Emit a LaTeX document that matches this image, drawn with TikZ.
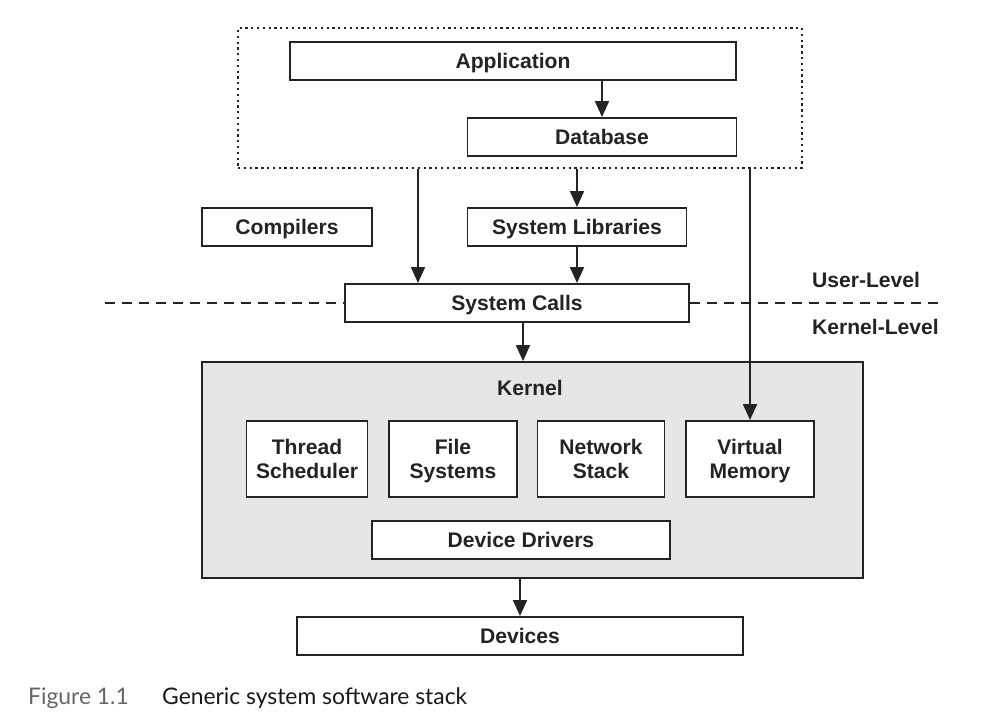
\documentclass[tikz,border=0pt]{standalone}
\usepackage{fontspec}
\setmainfont{Liberation Sans}
\newfontfamily\capfont{Lato}
\usetikzlibrary{arrows.meta,positioning}
\definecolor{ink}{RGB}{35,35,35}
\definecolor{shade}{RGB}{230,230,230}
\tikzset{
  >={Triangle[length=3.2mm,width=2.8mm]},
  box/.style={draw=ink,fill=white,line width=1.1pt,minimum width=#1,
    minimum height=7.6mm,inner sep=0pt,align=center,font=\fontsize{12}{13.5}\selectfont\bfseries,text=ink,
    text height=8.6pt,text depth=0pt},
  box/.default=3cm,
  tall box/.style={box=#1,minimum height=15.2mm,text height=22.1pt},
  flow/.style={->,line width=1.1pt,draw=ink},
  level/.style={font=\fontsize{12}{13.5}\selectfont\bfseries,text=ink,anchor=west},
}
\begin{document}
\begin{tikzpicture}[x=0.02cm,y=-0.02cm]
        \useasboundingbox (0,0) rectangle (1001,727);
        % user space
        \node[draw=ink,dotted,line width=1.3pt,minimum width=11.28cm,minimum height=2.8cm] (user) at (520,98) {};
        \node[box=8.94cm] (app) at (513,61) {Application};
        \node[box=5.38cm] (db) at (602,137) {Database};
        \node[box=3.4cm] (comp) at (287,227) {Compilers};
        \node[box=4.38cm] (lib) at (577,227) {System Libraries};
        \node[box=6.88cm] (sys) at (517,303) {System Calls};
        % user / kernel split
        \coordinate (dl) at (105,303); \coordinate (dr) at (940,303);
        \draw[ink,line width=1pt,dash pattern=on 2mm off 1.4mm] (dl) -- (sys.west) (sys.east) -- (dr);
        \node[level] (ul) at (806,280) {User-Level};
        \node[level] (kl) at (806,327) {Kernel-Level};
        % kernel
        \node[draw=ink,fill=shade,line width=1.1pt,minimum width=13.22cm,minimum height=4.32cm] (kern) at (532.5,470) {};
        \node[font=\fontsize{12}{13.5}\selectfont\bfseries,text=ink] (kt) at (530,388) {Kernel};
        \node[tall box=2.42cm] (thr) at (307,459) {Thread\\Scheduler};
        \node[tall box=2.56cm] (fs) at (453,459) {File\\Systems};
        \node[tall box=2.54cm] (net) at (601,459) {Network\\Stack};
        \node[tall box=2.56cm] (vm) at (750,459) {Virtual\\Memory};
        \node[box=5.96cm] (drv) at (521,540) {Device Drivers};
        \node[box=8.92cm] (dev) at (520,636) {Devices};
        % connectors
        \coordinate (a1) at (418,0);
        \coordinate (a2) at (523,0);
        \draw[flow] (app.south -| db) -- (db.north);
        \draw[flow] (user.south -| a1) -- (sys.north -| a1);
        \draw[flow] (user.south -| lib) -- (lib.north);
        \draw[flow] (lib.south) -- (sys.north -| lib);
        \draw[flow] (user.south -| vm) -- (vm.north);
        \draw[flow] (sys.south -| a2) -- (kern.north -| a2);
        \draw[flow] (kern.south -| dev) -- (dev.north);
        % caption
        \node[anchor=west,font=\capfont\fontsize{13}{15}\selectfont,text=black!60] (fig) at (22,698) {Figure 1.1};
        \node[anchor=west,font=\capfont\fontsize{13}{15}\selectfont,text=black!90] (cap) at (156,698) {Generic system software stack};
      \end{tikzpicture}
\end{document}
